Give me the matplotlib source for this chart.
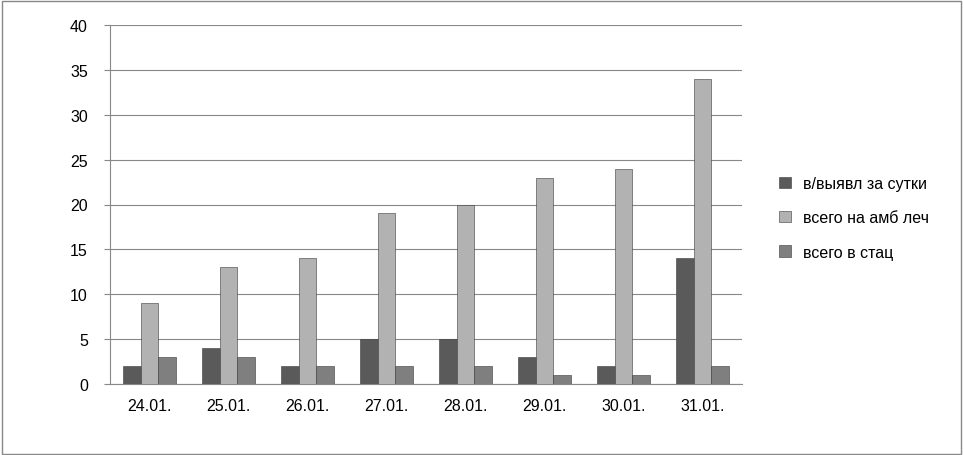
import matplotlib
matplotlib.use("Agg")
import matplotlib.pyplot as plt
import numpy as np

categories = ["24.01.", "25.01.", "26.01.", "27.01.", "28.01.", "29.01.", "30.01.", "31.01."]
s1 = [2, 4, 2, 5, 5, 3, 2, 14]
s2 = [9, 13, 14, 19, 20, 23, 24, 34]
s3 = [3, 3, 2, 2, 2, 1, 1, 2]
names = ["в/выявл за сутки", "всего на амб леч", "всего в стац"]
colors = ["#5a5a5a", "#b2b2b2", "#7f7f7f"]

plt.rcParams['font.family'] = ['Liberation Sans', 'DejaVu Sans']
fig = plt.figure(figsize=(9.64, 4.56), dpi=100)
ax = fig.add_axes([110/964, 1-385/456, (742-110)/964, (385-26)/456])
x = np.arange(len(categories))
w = 0.225
for i, (s, c, n) in enumerate(zip([s1, s2, s3], colors, names)):
    ax.bar(x + (i-1)*w, s, w, color=c, label=n, edgecolor="#3a3a3a", linewidth=0.4, zorder=3)
ax.set_xlim(-0.5, len(categories)-0.5)
ax.set_ylim(0, 40)
ax.set_yticks(range(0, 41, 5))
ax.set_xticks(x)
ax.set_xticklabels(categories)
ax.yaxis.grid(True, color="#888888", linewidth=0.8, zorder=0)
for sp in ["top", "right"]:
    ax.spines[sp].set_visible(False)
ax.spines["left"].set_color("#888888")
ax.spines["bottom"].set_color("#888888")
ax.tick_params(axis="both", labelsize=11.5, color="#888888", length=4)
ax.tick_params(axis="y", pad=12)
ax.tick_params(axis="x", length=0, pad=10)
ax.legend(loc="center left", bbox_to_anchor=(765/964, 0.52), bbox_transform=fig.transFigure,
          frameon=False, fontsize=11.5, handlelength=0.7, handleheight=0.7, labelspacing=1.2)
fig.patches.append(plt.Rectangle((0.002, 0.003), 0.995, 0.993, transform=fig.transFigure,
                                 fill=False, edgecolor="#888888", linewidth=1))
fig.savefig("out.png", dpi=100)
